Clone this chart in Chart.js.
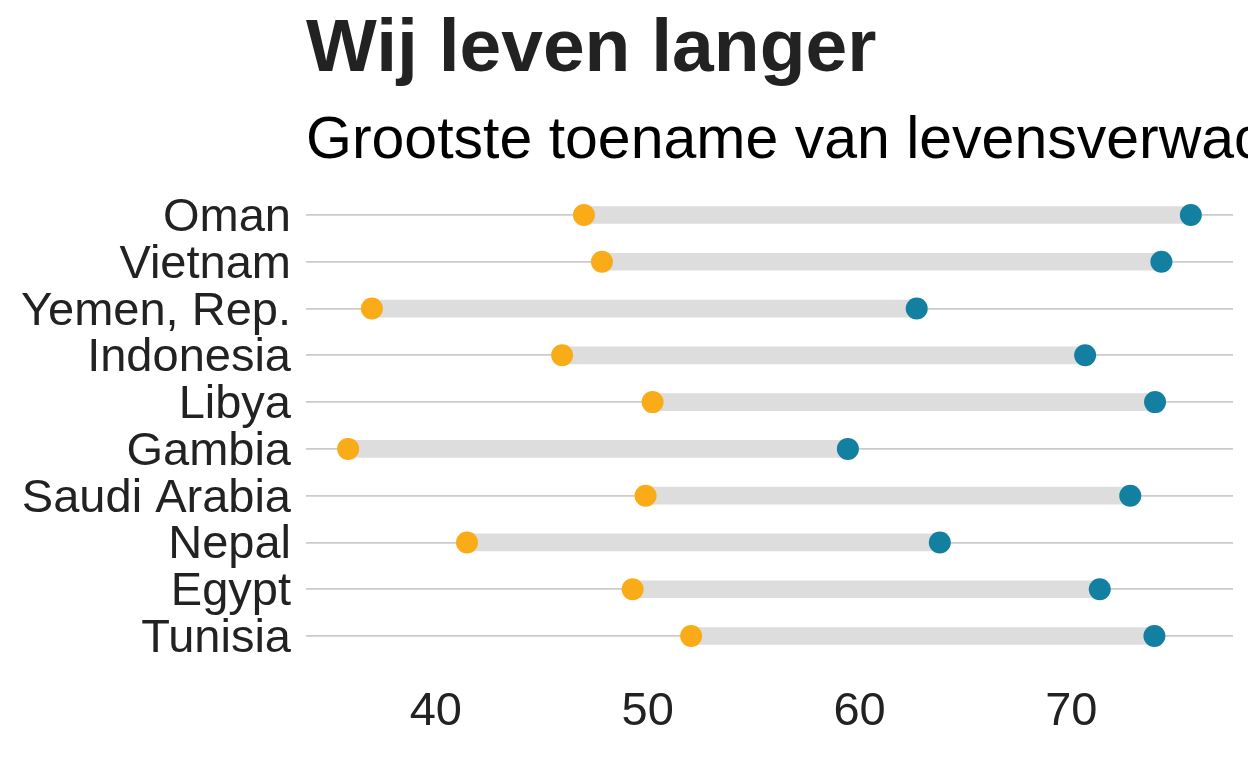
<!DOCTYPE html>
<html>
<head>
<meta charset="utf-8">
<script src="https://cdn.jsdelivr.net/npm/chart.js@4"></script>
<style>
  html, body { margin: 0; padding: 0; background: #fff; overflow: hidden; }
  #wrap { position: relative; width: 1248px; height: 768px; overflow: hidden; }
  .ttl { position: absolute; left: 306px; white-space: nowrap; color: #222222;
         font-family: "Liberation Sans", Arial, sans-serif; line-height: 1; }
  #title { top: 8px; font-size: 75px; font-weight: bold; }
  #subtitle { top: 109px; font-size: 59px; color: #000; }
</style>
</head>
<body>
<div id="wrap">
  <canvas id="chart" width="1248" height="768"></canvas>
  <div id="title" class="ttl">Wij leven langer</div>
  <div id="subtitle" class="ttl">Grootste toename van levensverwachting</div>
</div>
<script>
// Chart data
const countries = ['Oman', 'Vietnam', 'Yemen, Rep.', 'Indonesia', 'Libya',
                   'Gambia', 'Saudi Arabia', 'Nepal', 'Egypt', 'Tunisia'];
const lifeExp1967 = [46.99, 47.84, 36.98, 45.96, 50.23, 35.86, 49.90, 41.47, 49.29, 52.05];
const lifeExp2007 = [75.64, 74.25, 62.70, 70.65, 73.95, 59.45, 72.78, 63.79, 71.34, 73.92];
const xTicks = [40, 50, 60, 70];

const textColor = '#222222';
const fontFamily = '"Liberation Sans", Arial, sans-serif';

const ctx = document.getElementById('chart').getContext('2d');
new Chart(ctx, {
    type: 'bar',
    data: {
        labels: countries,
        datasets: [
            {
                // gray connecting segment
                type: 'bar',
                data: countries.map((c, i) => [lifeExp1967[i], lifeExp2007[i]]),
                backgroundColor: '#dddddd',
                borderWidth: 0,
                barThickness: 17,
                order: 3
            },
            {
                type: 'line',
                data: lifeExp1967,
                showLine: false,
                pointRadius: 11,
                pointHoverRadius: 11,
                pointBorderWidth: 0,
                pointBackgroundColor: '#FAAB18',
                order: 1
            },
            {
                type: 'line',
                data: lifeExp2007,
                showLine: false,
                pointRadius: 11,
                pointHoverRadius: 11,
                pointBorderWidth: 0,
                pointBackgroundColor: '#1380A1',
                order: 1
            }
        ]
    },
    options: {
        indexAxis: 'y',
        responsive: false,
        animation: false,
        layout: { padding: { top: 191.6, right: 15, left: 0, bottom: 0 } },
        plugins: {
            legend: { display: false },
            tooltip: { enabled: false }
        },
        scales: {
            x: {
                type: 'linear',
                min: 33.87,
                max: 77.63,
                afterBuildTicks: (scale) => { scale.ticks = xTicks.map(v => ({ value: v })); },
                afterFit: (scale) => { scale.height = 108.6; },
                grid: { display: false },
                border: { display: false },
                ticks: {
                    color: textColor,
                    padding: 16,
                    maxRotation: 0,
                    autoSkip: false,
                    font: { family: fontFamily, size: 47 }
                }
            },
            y: {
                type: 'category',
                offset: true,
                afterFit: (scale) => { scale.width = 306; },
                grid: {
                    offset: false,
                    color: '#cbcbcb',
                    lineWidth: 1.7,
                    drawTicks: false
                },
                border: { display: false },
                ticks: {
                    color: textColor,
                    padding: 15,
                    labelOffset: 3,
                    autoSkip: false,
                    font: { family: fontFamily, size: 47 }
                }
            }
        }
    }
});
</script>
</body>
</html>
